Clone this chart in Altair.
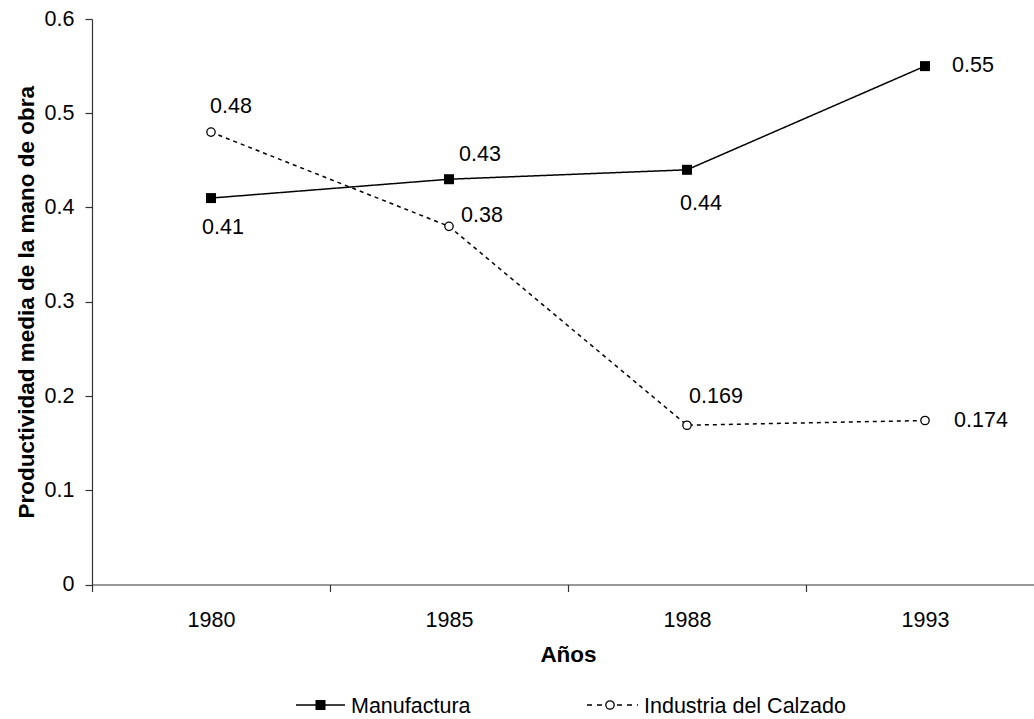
import altair as alt
import pandas as pd

# Average labour productivity, manufacturing vs. footwear industry
years = ["1980", "1985", "1988", "1993"]
manufactura = [0.41, 0.43, 0.44, 0.55]
calzado = [0.48, 0.38, 0.169, 0.174]
series_names = ["Manufactura", "Industria del Calzado"]
y_ticks = [0, 0.1, 0.2, 0.3, 0.4, 0.5, 0.6]

rows = []
for name, vals in zip(series_names, [manufactura, calzado]):
    for yr, v in zip(years, vals):
        rows.append({"year": yr, "series": name, "value": v, "label": f"{v:g}"})
df = pd.DataFrame(rows)

FONT = "Liberation Sans"
FS = 21.5
INK = "#000000"
AXIS = "#333333"

# where each value label sits relative to its marker (dx, dy in px)
label_offsets = {
    ("Manufactura", "1980"): (12, 30),
    ("Manufactura", "1985"): (31, -24),
    ("Manufactura", "1988"): (14, 34),
    ("Manufactura", "1993"): (48, 0),
    ("Industria del Calzado", "1980"): (20, -25),
    ("Industria del Calzado", "1985"): (33, -10),
    ("Industria del Calzado", "1988"): (29, -28),
    ("Industria del Calzado", "1993"): (56, 0),
}

x_enc = alt.X(
    "year:N",
    sort=years,
    scale=alt.Scale(type="band", domain=years, range=[0, 952],
                    paddingInner=0, paddingOuter=0),
    axis=alt.Axis(
        title="Años", labelAngle=0, tickBand="extent", grid=False,
        tickSize=7, labelPadding=35, labelBaseline="alphabetic",
        titleBaseline="alphabetic", titleY=77,
    ),
)
y_enc = alt.Y(
    "value:Q",
    scale=alt.Scale(domain=[0, 0.6], nice=False, zero=True),
    axis=alt.Axis(
        title="Productividad media de la mano de obra",
        values=y_ticks, grid=False, tickSize=7, labelPadding=11,
        labelExpr="datum.value == 0 ? '0' : format(datum.value, '.1f')",
        titleX=-59, titleY=282.75, titleAngle=270, titleAlign="center",
        titleBaseline="alphabetic",
    ),
)

base = alt.Chart(df).encode(x=x_enc, y=y_enc)

lines = base.mark_line(color=INK, strokeWidth=1.5).encode(
    strokeDash=alt.StrokeDash(
        "series:N",
        scale=alt.Scale(domain=series_names, range=[[1, 0], [4, 4]]),
        legend=None,
    ),
    detail="series:N",
)

SQUARE = dict(shape="square", filled=True, color=INK, size=100, opacity=1)
CIRCLE = dict(shape="circle", fill="white", stroke=INK, strokeWidth=1.3,
              size=70, opacity=1, filled=False)

pts_m = base.mark_point(**SQUARE).transform_filter(
    alt.datum.series == "Manufactura")
pts_c = base.mark_point(**CIRCLE).transform_filter(
    alt.datum.series == "Industria del Calzado")

labels = []
for (name, yr), (dx, dy) in label_offsets.items():
    labels.append(
        base.mark_text(
            font=FONT, fontSize=FS, color=INK, align="center",
            baseline="middle", dx=dx, dy=dy,
        )
        .encode(text="label:N")
        .transform_filter((alt.datum.series == name) & (alt.datum.year == yr))
    )

# legend below the axis title: line swatch with marker, then the series name
LEG_Y = 686
legend_entries = [
    # name, swatch left, swatch right, marker centre, dash, marker style
    (series_names[0], 204, 253, 228.5, [1, 0], SQUARE),
    (series_names[1], 495, 546, 518, [5, 5], CIRCLE),
]
legend_layers = []
for name, x0, x1, xm, dash, marker in legend_entries:
    src = alt.Chart(pd.DataFrame({"series": [name]}))
    legend_layers += [
        src.mark_rule(color=INK, strokeWidth=1.5, strokeDash=dash).encode(
            x=alt.value(x0), x2=alt.value(x1), y=alt.value(LEG_Y)),
        src.mark_point(**marker).encode(x=alt.value(xm), y=alt.value(LEG_Y)),
        src.mark_text(font=FONT, fontSize=FS, color=INK, align="left",
                      baseline="alphabetic").encode(
            text="series:N", x=alt.value(x1 + 6), y=alt.value(LEG_Y + 8)),
    ]

chart = (
    alt.layer(lines, pts_m, pts_c, *labels, *legend_layers)
    .properties(
        width=942,
        height=565.5,
        padding={"left": 92, "top": 19, "right": 0, "bottom": 134.5},
        autosize=alt.AutoSizeParams(type="none"),
        background="white",
    )
    .configure_view(stroke=None)
    .configure_axis(
        labelFont=FONT, labelFontSize=FS, labelColor=INK,
        titleFont=FONT, titleFontSize=22.5, titleFontWeight="bold",
        titleColor=INK, domainColor=AXIS, tickColor=AXIS,
        domainWidth=1.2, tickWidth=1.2,
    )
)

chart.save("out.html", embed_options={"renderer": "svg", "actions": False})
